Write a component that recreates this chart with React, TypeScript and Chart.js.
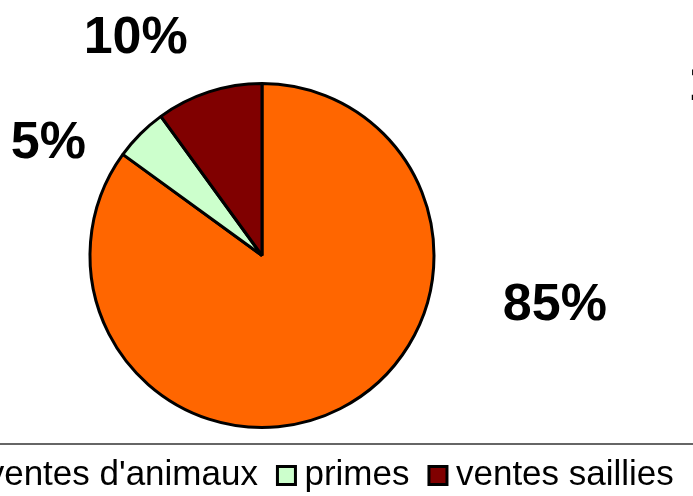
import React, { useEffect, useRef } from "react";
import { Chart, registerables } from "chart.js";

Chart.register(...registerables);

// ---- data ----
const categories = ["ventes d'animaux", "primes", "ventes saillies"];
const shares = [85, 5, 10];
const sliceColors = ["#FF6600", "#CCFFCC", "#800000"];
// label placement, in units of the pie radius, relative to the pie centre
const labelOffsets = [
  [1.688, 0.263],
  [-1.231, -0.668],
  [-0.728, -1.275],
];

const FONT = "'Liberation Sans', Arial, Helvetica, sans-serif";
const CANVAS_LEFT = -115;
const CANVAS_WIDTH = 872;
const CANVAS_HEIGHT = 503;
const BORDER = 3;
const LEGEND_PAD = 28;
const LEGEND_FONT = 35;
const PIE_SHIFT = 2 * (CANVAS_WIDTH / 2 + CANVAS_LEFT - 262); // pie sits left of the legend's centre

const layoutTweak = {
  id: "layoutTweak",
  afterLayout(chart: any) {
    chart.chartArea.right -= PIE_SHIFT;
    chart.chartArea.width = chart.chartArea.right - chart.chartArea.left;
  },
};

const pctLabels = {
  id: "pctLabels",
  afterDatasetsDraw(chart: any) {
    const meta = chart.getDatasetMeta(0);
    const ctx = chart.ctx;
    ctx.save();
    ctx.font = `bold 52px ${FONT}`;
    ctx.fillStyle = "#000";
    ctx.textAlign = "center";
    ctx.textBaseline = "alphabetic";
    meta.data.forEach((arc: any, i: number) => {
      const { x, y, outerRadius } = arc.getProps(["x", "y", "outerRadius"], true);
      const R = outerRadius + BORDER / 2;
      const [ox, oy] = labelOffsets[i];
      ctx.fillText(shares[i] + "%", x + ox * R, y + oy * R + 0.358 * 52);
    });
    // fragment of the neighbouring chart's label, cut by the right edge
    ctx.textAlign = "left";
    ctx.fillText("1", 688.5 - CANVAS_LEFT, 100);
    ctx.restore();
  },
  afterDraw(chart: any) {
    const ctx = chart.ctx;
    const y = chart.legend.top + LEGEND_PAD - 14;
    ctx.save();
    ctx.strokeStyle = "#333";
    ctx.lineWidth = 1.5;
    ctx.beginPath();
    ctx.moveTo(0, y);
    ctx.lineTo(chart.width, y);
    ctx.stroke();
    ctx.restore();
  },
};

export default function App() {
  const ref = useRef<HTMLCanvasElement>(null);
  useEffect(() => {
    if (!ref.current) return;
    const chart = new Chart(ref.current, {
      type: "pie",
      data: {
        labels: categories,
        datasets: [
          {
            data: shares,
            backgroundColor: sliceColors,
            borderColor: "#000",
            borderWidth: BORDER,
            radius: 172,
          } as any,
        ],
      },
      options: {
        animation: false,
        responsive: true,
        maintainAspectRatio: false,
        layout: { padding: { top: 81, right: 0, bottom: 0, left: 0 } },
        plugins: {
          legend: {
            position: "bottom",
            labels: {
              font: { size: LEGEND_FONT, family: FONT },
              color: "#000",
              usePointStyle: true,
              pointStyle: "rect",
              boxWidth: 1,
              boxHeight: 18,
              padding: LEGEND_PAD,
            },
          },
          tooltip: { enabled: false },
        },
      },
      plugins: [layoutTweak, pctLabels],
    });
    return () => chart.destroy();
  }, []);
  return (
    <div
      style={{
        position: "fixed",
        left: CANVAS_LEFT,
        top: 0,
        width: CANVAS_WIDTH,
        height: CANVAS_HEIGHT,
        background: "#fff",
      }}
    >
      <canvas ref={ref} />
    </div>
  );
}
